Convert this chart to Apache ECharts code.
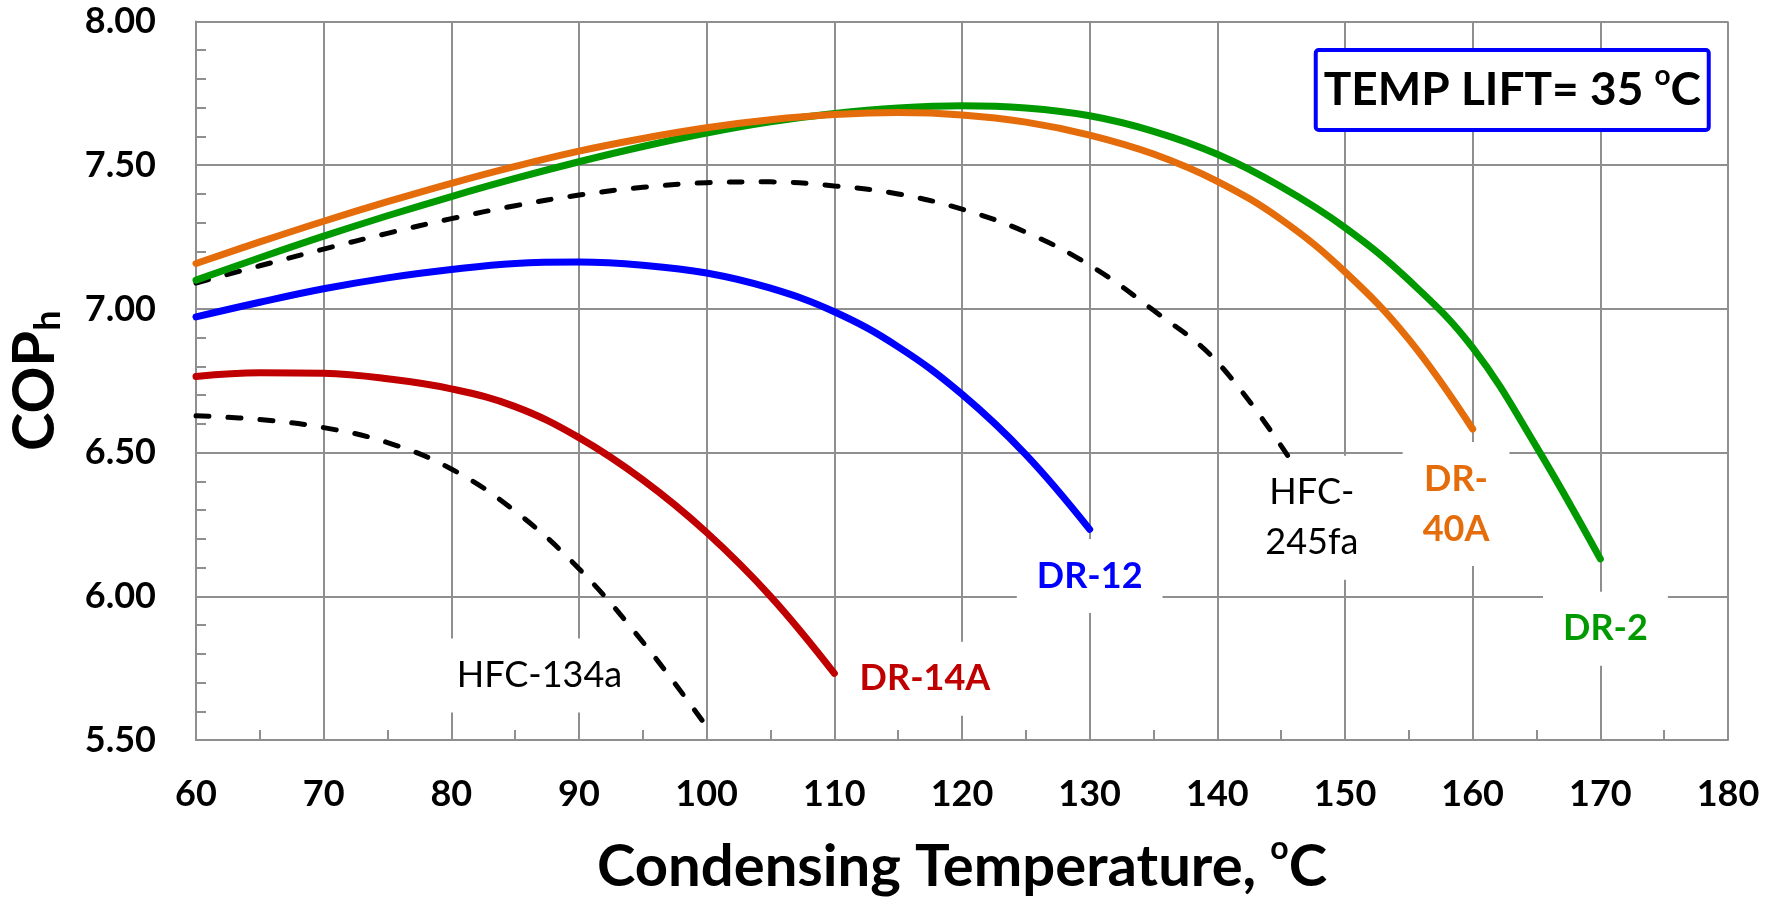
<!DOCTYPE html>
<html>
<head>
<meta charset="utf-8">
<title>COPh vs Condensing Temperature</title>
<script src="https://cdn.jsdelivr.net/npm/echarts@6.0.0/dist/echarts.min.js"></script>
<style>
  html, body { margin: 0; padding: 0; background: #fff; }
  #chart { width: 1779px; height: 898px; }
</style>
</head>
<body>
<div id="chart"></div>
<script>
// condensing temperature (oC), 5 degree steps
const tempSteps = [60, 65, 70, 75, 80, 85, 90, 95, 100, 105, 110, 115, 120, 125, 130, 135, 140, 145, 150, 155, 160, 165, 170];

// COPh values
const copDR2   = [7.10, 7.178, 7.253, 7.324, 7.391, 7.454, 7.512, 7.565, 7.612, 7.651, 7.68, 7.699, 7.707, 7.699, 7.672, 7.618, 7.538, 7.425, 7.283, 7.10, 6.865, 6.52, 6.13];
const copDR40A = [7.158, 7.233, 7.305, 7.373, 7.437, 7.496, 7.549, 7.593, 7.63, 7.658, 7.676, 7.683, 7.675, 7.65, 7.605, 7.539, 7.444, 7.311, 7.129, 6.894, 6.582];
const copDR12  = [6.972, 7.023, 7.07, 7.108, 7.137, 7.158, 7.163, 7.152, 7.125, 7.072, 6.99, 6.868, 6.703, 6.493, 6.233];
const copDR14A = [6.765, 6.778, 6.776, 6.757, 6.722, 6.66, 6.552, 6.405, 6.222, 6.0, 5.732];

const temp245fa = [60, 65, 70, 75, 80, 85, 90, 95, 100, 105, 110, 115, 120, 125, 130, 135, 140, 145.5];
const cop245fa  = [7.09, 7.15, 7.208, 7.263, 7.314, 7.359, 7.396, 7.423, 7.439, 7.442, 7.428, 7.40, 7.347, 7.267, 7.152, 6.995, 6.815, 6.49];

const temp134a = [60, 65, 70, 75, 80, 85, 90, 95, 99.7];
const cop134a  = [6.628, 6.615, 6.587, 6.535, 6.443, 6.296, 6.096, 5.841, 5.565];

const FONT = 'Lato';

function zip(xs, ys) {
    return ys.map((y, i) => [xs[i], y]);
}

// text label sitting in the plot, anchored in data units
function curveLabel(text, at, color, bold) {
    return {
        z: 1,
        silent: true,
        symbol: 'rect',
        symbolSize: 1,
        itemStyle: { color: 'rgba(0,0,0,0)' },
        label: {
            show: true,
            position: 'inside',
            formatter: text,
            color: color,
            fontFamily: FONT,
            fontSize: 36,
            fontWeight: bold ? 'bold' : 'normal',
            lineHeight: 50,
            backgroundColor: '#fff',
            padding: [12, 20]
        },
        data: [{ coord: at }]
    };
}

function curve(name, data, color, dashed, label) {
    return {
        name: name,
        type: 'line',
        data: data,
        smooth: 0.4,
        symbol: 'none',
        z: 2,
        lineStyle: {
            color: color,
            width: dashed ? 5 : 7,
            type: dashed ? [13, 19] : 'solid',
            cap: 'round'
        },
        markPoint: label
    };
}

const chart = echarts.init(document.getElementById('chart'));

const gridColor = '#8f8f8f';

const option = {
    animation: false,
    backgroundColor: '#fff',
    title: {
        text: 'TEMP LIFT= 35 {sup|o}C',
        right: 70,
        top: 50,
        backgroundColor: '#fff',
        borderColor: '#0000FF',
        borderWidth: 4,
        borderRadius: 3,
        padding: [12, 8],
        textStyle: {
            fontFamily: FONT,
            fontSize: 46,
            fontWeight: 'bold',
            color: '#000',
            lineHeight: 56,
            rich: {
                sup: { fontFamily: FONT, fontSize: 28, fontWeight: 'bold', color: '#000', verticalAlign: 'top', lineHeight: 32 }
            }
        }
    },
    grid: {
        left: 196,
        right: 51,
        top: 21.5,
        bottom: 158,
        containLabel: false,
        outerBoundsMode: 'none'
    },
    xAxis: {
        type: 'value',
        min: 60,
        max: 180,
        interval: 10,
        name: 'Condensing Temperature, {sup|o}C',
        nameLocation: 'middle',
        nameGap: 93,
        nameTextStyle: {
            fontFamily: FONT,
            fontSize: 58,
            fontWeight: 'bold',
            color: '#000',
            lineHeight: 68,
            rich: {
                sup: { fontFamily: FONT, fontSize: 32, fontWeight: 'bold', color: '#000', verticalAlign: 'top', lineHeight: 36 }
            }
        },
        axisLine: { show: true, lineStyle: { color: gridColor, width: 2 } },
        axisTick: { show: true, inside: true, length: 10, lineStyle: { color: gridColor, width: 2 } },
        minorTick: { show: true, splitNumber: 2, length: 10, lineStyle: { color: gridColor, width: 2 } },
        splitLine: { show: true, lineStyle: { color: gridColor, width: 2 } },
        axisLabel: {
            margin: 36,
            fontFamily: FONT,
            fontSize: 36,
            fontWeight: 'bold',
            color: '#000'
        }
    },
    yAxis: {
        type: 'value',
        min: 5.5,
        max: 8,
        interval: 0.5,
        name: 'COP{sub|h}',
        nameLocation: 'middle',
        nameGap: 130,
        nameTextStyle: {
            fontFamily: FONT,
            fontSize: 58,
            fontWeight: 'bold',
            color: '#000',
            lineHeight: 62,
            rich: {
                sub: { fontFamily: FONT, fontSize: 36, fontWeight: 'bold', color: '#000', verticalAlign: 'bottom', lineHeight: 19 }
            }
        },
        axisLine: { show: true, lineStyle: { color: gridColor, width: 2 } },
        axisTick: { show: true, inside: true, length: 10, lineStyle: { color: gridColor, width: 2 } },
        minorTick: { show: true, splitNumber: 5, length: 10, lineStyle: { color: gridColor, width: 2 } },
        splitLine: { show: true, lineStyle: { color: gridColor, width: 2 } },
        axisLabel: {
            margin: 40,
            fontFamily: FONT,
            fontSize: 36,
            fontWeight: 'bold',
            color: '#000',
            formatter: v => v.toFixed(2)
        }
    },
    series: [
        curve('HFC-134a', zip(temp134a, cop134a), '#000', true,
            curveLabel('HFC-134a', [86.9, 5.724], '#000', false)),
        curve('HFC-245fa', zip(temp245fa, cop245fa), '#000', true,
            curveLabel('HFC-\n245fa', [147.4, 6.273], '#000', false)),
        curve('DR-14A', zip(tempSteps, copDR14A), '#C00000', false,
            curveLabel('DR-14A', [117.1, 5.713], '#C00000', true)),
        curve('DR-12', zip(tempSteps, copDR12), '#0000FF', false,
            curveLabel('DR-12', [130.0, 6.071], '#0000FF', true)),
        curve('DR-2', zip(tempSteps, copDR2), '#009A00', false,
            curveLabel('DR-2', [170.4, 5.887], '#009A00', true)),
        curve('DR-40A', zip(tempSteps, copDR40A), '#E46C0A', false,
            curveLabel('DR-\n40A', [158.7, 6.321], '#E46C0A', true))
    ]
};

chart.setOption(option);

window.addEventListener('resize', () => {
    chart.resize();
});
</script>
</body>
</html>
